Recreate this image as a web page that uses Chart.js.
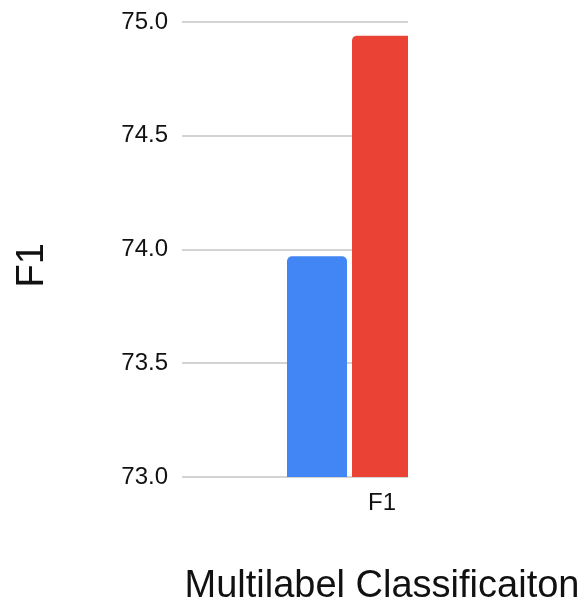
<!DOCTYPE html>
<html>
<head>
<meta charset="utf-8">
<script src="https://cdn.jsdelivr.net/npm/chart.js@4/dist/chart.umd.min.js"></script>
<style>
    body { margin: 0; background: #ffffff; }
    #wrap { position: relative; width: 585px; height: 607px; }
    /* the source image is cut off on the right side of the plot */
    #cut { position: absolute; left: 408px; top: 0; width: 177px; height: 484px; background: #ffffff; }
</style>
</head>
<body>
<div id="wrap">
    <canvas id="barChart" width="585" height="607"></canvas>
    <div id="cut"></div>
</div>
<script>
// Chart data
const categories = ["F1"];
const seriesA = [73.97];
const seriesB = [74.94];
const seriesC = [null]; // third series, hidden by the crop
const yTicks = [73.0, 73.5, 74.0, 74.5, 75.0];

document.addEventListener('DOMContentLoaded', function() {
    const ctx = document.getElementById('barChart').getContext('2d');
    const fontFamily = "'Liberation Sans', Arial, Helvetica, sans-serif";
    const textColor = "#111111";

    const data = {
        labels: categories,
        datasets: [{
            label: "A",
            data: seriesA,
            backgroundColor: "#4285F4",
            borderRadius: { topLeft: 5, topRight: 5 },
            borderSkipped: 'bottom'
        }, {
            label: "B",
            data: seriesB,
            backgroundColor: "#EA4335",
            borderRadius: { topLeft: 5, topRight: 5 },
            borderSkipped: 'bottom'
        }, {
            label: "C",
            data: seriesC,
            backgroundColor: "#FBBC04"
        }]
    };

    var myChart = new Chart(ctx, {
        type: 'bar',
        data: data,
        options: {
            responsive: false,
            animation: false,
            categoryPercentage: 0.4875,
            barPercentage: 0.923,
            layout: { padding: { top: 22, right: 3, bottom: 0, left: 0 } },
            plugins: {
                legend: { display: false },
                tooltip: { enabled: false }
            },
            scales: {
                x: {
                    grid: { display: false, drawTicks: false },
                    border: { display: false },
                    ticks: {
                        color: textColor,
                        padding: 12,
                        font: { family: fontFamily, size: 24 }
                    },
                    title: {
                        display: true,
                        text: "Multilabel Classificaiton",
                        color: textColor,
                        padding: { top: 0, bottom: 0 },
                        font: { family: fontFamily, size: 38, lineHeight: 1.1 }
                    },
                    afterFit: function(scale) { scale.height = 130; }
                },
                y: {
                    min: yTicks[0],
                    max: yTicks[yTicks.length - 1],
                    afterBuildTicks: function(scale) {
                        scale.ticks = yTicks.map(v => ({ value: v }));
                    },
                    grid: { color: "#d3d3d3", lineWidth: 2, drawTicks: false },
                    border: { display: false },
                    ticks: {
                        color: textColor,
                        padding: 14,
                        font: { family: fontFamily, size: 24 },
                        callback: function(value) { return value.toFixed(1); }
                    },
                    title: {
                        display: true,
                        text: "F1   ",
                        color: textColor,
                        padding: { top: 12, bottom: 0 },
                        font: { family: fontFamily, size: 38, lineHeight: 1.1 }
                    },
                    afterFit: function(scale) {
                        scale.width = 182;
                        // let the layout padding decide where the plot starts
                        scale.paddingTop = 0;
                        scale.paddingBottom = 0;
                    }
                }
            }
        }
    });
});
</script>
</body>
</html>
